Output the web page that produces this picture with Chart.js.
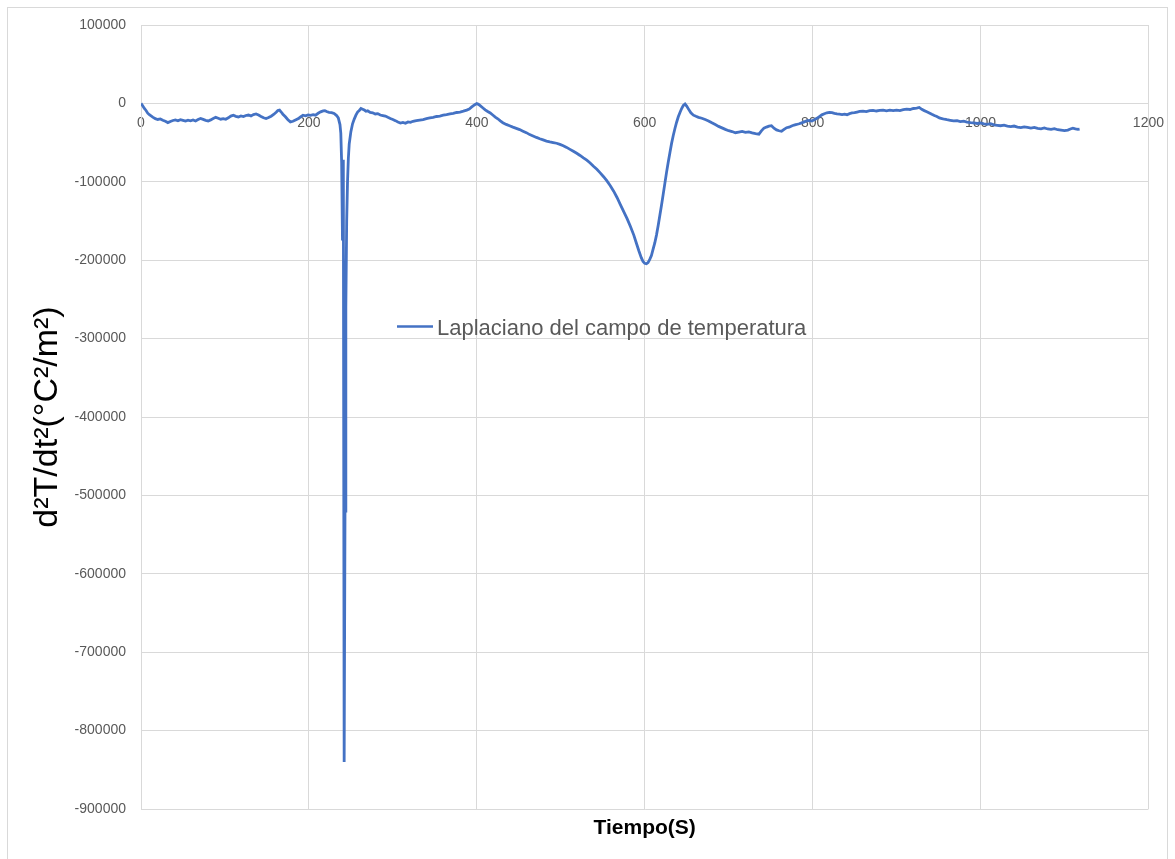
<!DOCTYPE html>
<html lang="es">
<head>
<meta charset="utf-8">
<title>Laplaciano del campo de temperatura</title>
<script src="https://cdn.jsdelivr.net/npm/chart.js@4.4.1/dist/chart.umd.min.js"></script>
<style>
  html, body { margin: 0; padding: 0; background: #ffffff; overflow: hidden; }
  #wrap { position: relative; width: 1175px; height: 859px; }
  #grafico { position: absolute; left: 0; top: 0; }
  #marco { position: absolute; left: 7px; top: 7px; width: 1159px; height: 870px;
           border: 1px solid #d9d9d9; pointer-events: none; }
</style>
</head>
<body>
<div id="wrap">
  <canvas id="grafico" width="1175" height="859"></canvas>
  <div id="marco"></div>
</div>
<script>
// Tiempo en segundos
const tiempo = [
  0, 2, 4, 6, 8, 10, 12, 14, 17, 20, 23, 26, 29, 32, 35, 38, 41, 44, 47, 50,
  53, 56, 59, 62, 65, 68, 71, 74, 77, 80, 83, 86, 89, 92, 95, 98, 101, 104, 107, 110,
  113, 116, 119, 122, 125, 128, 131, 134, 137, 140, 143, 146, 149, 152, 155, 158, 161, 163, 165, 167,
  169, 172, 175, 178, 181, 184, 187, 190, 193, 196, 199, 202, 205, 208, 211, 214, 217, 219, 221, 224,
  227, 230, 233, 235, 237, 238, 239, 240, 241, 242, 243, 244, 245, 246, 247, 248, 250, 252, 254, 256,
  258, 260, 262, 264, 266, 268, 270, 273, 276, 279, 282, 285, 288, 291, 294, 297, 300, 303, 306, 309,
  312, 315, 318, 321, 324, 328, 332, 336, 340, 344, 348, 352, 356, 360, 364, 368, 372, 376, 380, 384,
  388, 391, 394, 396, 398, 400, 402, 404, 407, 410, 413, 416, 419, 422, 425, 428, 431, 435, 439, 443,
  447, 451, 455, 459, 463, 467, 471, 475, 479, 483, 487, 491, 495, 499, 503, 507, 511, 515, 519, 523,
  527, 531, 535, 539, 543, 547, 551, 555, 559, 563, 567, 571, 575, 579, 583, 587, 590, 593, 596, 598,
  600, 602, 604, 606, 608, 610, 612, 614, 616, 618, 620, 622, 624, 626, 628, 630, 632, 634, 636, 638,
  640, 642, 644, 646, 648, 650, 652, 655, 658, 661, 664, 668, 672, 676, 680, 684, 688, 692, 696, 700,
  704, 708, 712, 716, 720, 724, 728, 732, 736, 739, 742, 745, 748, 751, 754, 757, 760, 763, 766, 769,
  772, 775, 778, 781, 784, 787, 790, 793, 796, 799, 802, 805, 808, 811, 814, 817, 820, 823, 826, 829,
  832, 835, 838, 841, 844, 847, 850, 853, 856, 860, 864, 868, 872, 876, 880, 884, 888, 892, 896, 900,
  904, 908, 912, 916, 920, 924, 927, 930, 933, 936, 939, 942, 945, 948, 951, 954, 957, 960, 964, 968,
  972, 976, 980, 984, 988, 992, 996, 1000, 1004, 1008, 1012, 1016, 1020, 1024, 1028, 1032, 1036, 1040, 1044, 1048,
  1052, 1056, 1060, 1064, 1068, 1072, 1076, 1080, 1084, 1088, 1092, 1096, 1100, 1104, 1107, 1110, 1113, 1116, 1118
];

// d²T/dt² (°C²/m²)
const laplaciano = [
  0, -3000, -6500, -9000, -12500, -14500, -16000, -17500, -19500, -20500,
  -19800, -21500, -22800, -24500, -23000, -21800, -21000, -22200, -20800, -21600,
  -22600, -21400, -22300, -21200, -22500, -20600, -19200, -20400, -21600, -22400,
  -21000, -19300, -17800, -18900, -20200, -19500, -20300, -18400, -16200, -15100,
  -16500, -17300, -16000, -16800, -15400, -14800, -15900, -14200, -13500, -14900,
  -16700, -18300, -19400, -18000, -16300, -14100, -11200, -9000, -8400, -11000,
  -13800, -17000, -20800, -23600, -22800, -21200, -19600, -17200, -15100, -15800,
  -14600, -15300, -14400, -15000, -12600, -10800, -9600, -9200, -10400, -11300,
  -11800, -12900, -15500, -18500, -27000, -38000, -75000, -175000, -72000, -840000,
  -520000, -260000, -150000, -100000, -70000, -52000, -36000, -26000, -20000, -15000,
  -11000, -9000, -6500, -7500, -8500, -10000, -9500, -11500, -12000, -13500,
  -13000, -14800, -15500, -16200, -17800, -19300, -20500, -22000, -23800, -25000,
  -24200, -25300, -23600, -24100, -22800, -21900, -21200, -20600, -19400, -18600,
  -17800, -16700, -16200, -15100, -14300, -13400, -12800, -11600, -11000, -9900,
  -8600, -7200, -4500, -2800, -1500, -300, -1200, -2800, -5500, -8200,
  -10300, -12200, -14800, -17400, -19600, -22300, -24600, -26800, -28600, -30300,
  -31800, -33400, -35400, -37300, -39800, -41500, -43400, -45100, -46600, -48000,
  -49000, -49900, -50800, -52300, -54000, -56100, -58600, -61000, -63600, -66400,
  -69500, -72400, -76000, -80200, -84000, -88600, -93500, -98800, -105000, -112000,
  -120000, -129000, -138000, -147000, -157000, -168000, -178000, -188000, -197000, -201500,
  -204000, -204500, -203000, -199000, -194000, -186000, -178000, -168000, -156000, -143000,
  -130000, -116000, -102000, -88000, -75000, -63000, -51000, -41000, -32000, -24000,
  -17000, -11500, -6500, -2500, -800, -3500, -7000, -12000, -15000, -16500,
  -17800, -18900, -20600, -22400, -24800, -27000, -29300, -31200, -33100, -34800,
  -35900, -37400, -36600, -35800, -37000, -36300, -37600, -38600, -39300, -35000,
  -31500, -30200, -29000, -28400, -31600, -33800, -34900, -35500, -33200, -31000,
  -30400, -28800, -27600, -26900, -26000, -24800, -23600, -22200, -21800, -22500,
  -21000, -19000, -16800, -14600, -13200, -12000, -11400, -11800, -12700, -13400,
  -13800, -14200, -13600, -14400, -13000, -12200, -11800, -11000, -10300, -9800,
  -10400, -9300, -8800, -9700, -9000, -8600, -9600, -8700, -9300, -8500,
  -9100, -8000, -7400, -7800, -6500, -6000, -5200, -7600, -9200, -10600,
  -12200, -13900, -15500, -16800, -18600, -19400, -20200, -20800, -21500, -22300,
  -22000, -23300, -22700, -23800, -24600, -24900, -25600, -25000, -26200, -26800,
  -25900, -27400, -27900, -28500, -27800, -29100, -29600, -28900, -30200, -30800,
  -29900, -30600, -31400, -30700, -31900, -32400, -31200, -32600, -33100, -32300,
  -33600, -34200, -34800, -34000, -32600, -31500, -32400, -33200, -32800
];

// Rangos y pasos de los ejes
const ejeX = { min: 0, max: 1200, paso: 200 };
const ejeY = { min: -900000, max: 100000, paso: 100000 };

const nombreSerie = 'Laplaciano del campo de temperatura';
const tituloX = 'Tiempo(S)';
const tituloY = 'd\u00B2T/dt\u00B2(\u00B0C\u00B2/m\u00B2)';

const AZUL = '#4472C4';
const GRIS_REJILLA = '#d9d9d9';
const GRIS_TEXTO = '#595959';
const FUENTE = "'Liberation Sans', Arial, sans-serif";

const puntos = tiempo.map((t, i) => ({ x: t, y: laplaciano[i] }));

// Leyenda dibujada dentro del área del gráfico
const leyendaInterna = {
  id: 'leyendaInterna',
  afterDatasetsDraw(chart) {
    const ctx = chart.ctx;
    const ds = chart.data.datasets[0];
    ctx.save();
    ctx.strokeStyle = ds.borderColor;
    ctx.lineWidth = 2.6;
    ctx.beginPath();
    ctx.moveTo(397, 326.5);
    ctx.lineTo(433, 326.5);
    ctx.stroke();
    ctx.fillStyle = GRIS_TEXTO;
    ctx.font = "22px " + FUENTE;
    ctx.textAlign = 'left';
    ctx.textBaseline = 'alphabetic';
    ctx.fillText(ds.label, 437, 335);
    ctx.restore();
  }
};

new Chart(document.getElementById('grafico'), {
  type: 'line',
  data: {
    datasets: [{
      label: nombreSerie,
      data: puntos,
      borderColor: AZUL,
      backgroundColor: AZUL,
      borderWidth: 2.8,
      pointRadius: 0,
      tension: 0,
      fill: false,
      xAxisID: 'x',
      yAxisID: 'y'
    }]
  },
  options: {
    responsive: false,
    animation: false,
    devicePixelRatio: 1,
    layout: { padding: { left: 0, right: 23, top: 25, bottom: 0 } },
    plugins: {
      legend: { display: false },
      tooltip: { enabled: false }
    },
    scales: {
      x: {
        type: 'linear',
        position: { y: 0 },
        min: ejeX.min,
        max: ejeX.max,
        ticks: {
          stepSize: ejeX.paso,
          color: GRIS_TEXTO,
          font: { family: FUENTE, size: 14 },
          padding: 11,
          maxRotation: 0,
          autoSkip: false,
          callback: (v) => String(v)
        },
        grid: { color: GRIS_REJILLA, lineWidth: 1, drawTicks: false },
        border: { color: GRIS_REJILLA, width: 1 }
      },
      xTitulo: {
        type: 'linear',
        axis: 'x',
        position: 'bottom',
        min: ejeX.min,
        max: ejeX.max,
        ticks: { display: false },
        grid: { display: false, drawTicks: false },
        border: { display: false },
        title: {
          display: true,
          text: tituloX,
          color: '#000000',
          font: { family: FUENTE, size: 21, weight: 'bold' },
          padding: { top: 0, bottom: 18 }
        },
        afterFit(scale) { scale.height = 50; }
      },
      y: {
        type: 'linear',
        position: 'left',
        min: ejeY.min,
        max: ejeY.max,
        ticks: {
          stepSize: ejeY.paso,
          color: GRIS_TEXTO,
          font: { family: FUENTE, size: 14 },
          padding: 15,
          callback: (v) => String(v)
        },
        grid: { color: GRIS_REJILLA, lineWidth: 1, drawTicks: false },
        border: { color: GRIS_REJILLA, width: 1 },
        title: {
          display: true,
          text: tituloY,
          color: '#000000',
          font: { family: FUENTE, size: 34 },
          padding: { top: 27, bottom: 0 }
        },
        afterFit(scale) { scale.width = 141; }
      }
    }
  },
  plugins: [leyendaInterna]
});
</script>
</body>
</html>
